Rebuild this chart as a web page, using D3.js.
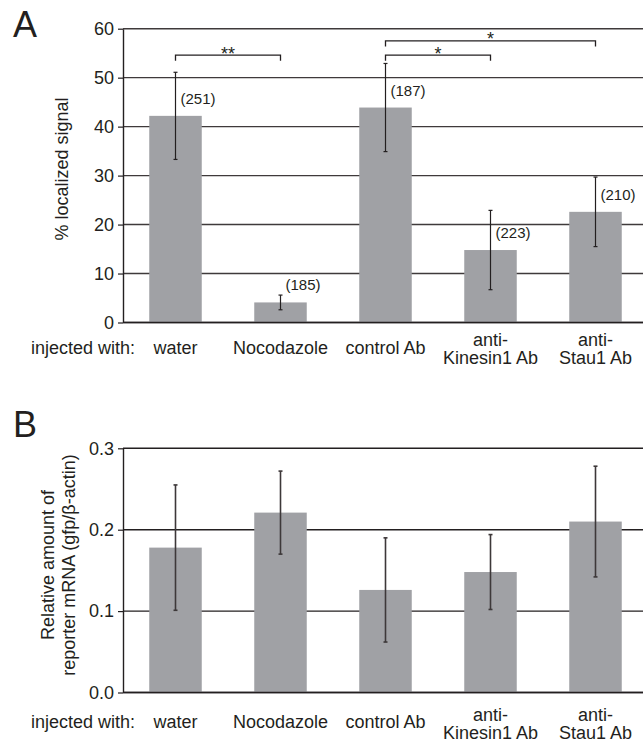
<!DOCTYPE html>
<html>
<head>
<meta charset="utf-8">
<script src="https://cdnjs.cloudflare.com/ajax/libs/d3/7.8.5/d3.min.js"></script>
<style>
body { margin: 0; background: #fff; }
svg text { font-family: "Liberation Sans", Arial, sans-serif; fill: #231f20; }
</style>
</head>
<body>
<svg width="643" height="744"></svg>
<script>
let categories = ['water', 'Nocodazole', 'control Ab', 'anti-Kinesin1 Ab', 'anti-Stau1 Ab']
let categoryLines = [['water'], ['Nocodazole'], ['control Ab'], ['anti-', 'Kinesin1 Ab'], ['anti-', 'Stau1 Ab']]

// panel A
let localizedValues = [42.2, 4.1, 43.9, 14.8, 22.6]
let localizedErrors = [8.9, 1.5, 9.0, 8.1, 7.1]
let cellCounts = ['(251)', '(185)', '(187)', '(223)', '(210)']
let localizedTicks = [0, 10, 20, 30, 40, 50, 60]
let brackets = [
    {from: 'water', to: 'Nocodazole', level: 54.6, mark: '**'},
    {from: 'control Ab', to: 'anti-Kinesin1 Ab', level: 54.6, mark: '*'},
    {from: 'control Ab', to: 'anti-Stau1 Ab', level: 57.5, mark: '*'}
]

// panel B
let reporterValues = [0.178, 0.221, 0.126, 0.148, 0.210]
let reporterErrors = [0.077, 0.051, 0.064, 0.046, 0.068]
let reporterTicks = [0, 0.1, 0.2, 0.3]

let svg = d3.select('svg')
let left = 123
let right = 643

let x = d3.scaleBand()
    .domain(categories)
    .range([left, 648])
    .paddingInner(0.5)
    .paddingOuter(0.25)

let drawPanel = (p) => {
    let g = svg.append('g')
    let y = d3.scaleLinear().domain([0, p.max]).range([p.bottom, p.top])
    let rows = categories.map((c, i) => {
        return {cat: c, value: p.values[i], err: p.errors[i], lines: categoryLines[i], n: p.counts ? p.counts[i] : null}
    })

    g.selectAll('.grid')
        .data(p.ticks)
        .enter()
        .append('line')
        .attr('class', 'grid')
        .attr('x1', left)
        .attr('x2', right)
        .attr('y1', d => y(d))
        .attr('y2', d => y(d))
        .attr('stroke', p.gridColor)
        .attr('stroke-width', 1.4)

    g.selectAll('.bar')
        .data(rows)
        .enter()
        .append('rect')
        .attr('class', 'bar')
        .attr('x', d => x(d.cat))
        .attr('width', x.bandwidth())
        .attr('y', d => y(d.value))
        .attr('height', d => y(0) - y(d.value))
        .attr('fill', '#a0a1a5')

    let axis = g.append('g')
        .attr('transform', `translate(${left},0)`)
        .style('color', '#231f20')
        .call(d3.axisLeft(y).tickValues(p.ticks).tickFormat(p.format).tickSize(5).tickSizeOuter(0).tickPadding(4))
    axis.selectAll('text').attr('font-size', 18).attr('font-family', null)
    axis.select('.domain').attr('stroke-width', 1.4)
    axis.selectAll('.tick line').attr('stroke-width', 1.2)

    // x axis baseline
    g.append('line')
        .attr('x1', left).attr('x2', right)
        .attr('y1', y(0)).attr('y2', y(0))
        .attr('stroke', '#231f20')
        .attr('stroke-width', 1.4)

    let eb = g.selectAll('.err')
        .data(rows)
        .enter()
        .append('g')
        .attr('class', 'err')
        .attr('stroke', p.errColor)
        .attr('stroke-width', p.errWidth)
    eb.append('line')
        .attr('x1', d => x(d.cat) + x.bandwidth() / 2)
        .attr('x2', d => x(d.cat) + x.bandwidth() / 2)
        .attr('y1', d => y(d.value + d.err))
        .attr('y2', d => y(d.value - d.err))
    eb.append('line')
        .attr('x1', d => x(d.cat) + x.bandwidth() / 2 - 2)
        .attr('x2', d => x(d.cat) + x.bandwidth() / 2 + 2)
        .attr('y1', d => y(d.value + d.err))
        .attr('y2', d => y(d.value + d.err))
    eb.append('line')
        .attr('x1', d => x(d.cat) + x.bandwidth() / 2 - 2)
        .attr('x2', d => x(d.cat) + x.bandwidth() / 2 + 2)
        .attr('y1', d => y(d.value - d.err))
        .attr('y2', d => y(d.value - d.err))

    if(p.counts) {
        g.selectAll('.count')
            .data(rows)
            .enter()
            .append('text')
            .attr('class', 'count')
            .attr('x', d => x(d.cat) + x.bandwidth() / 2 + 5)
            .attr('y', d => y(d.value) - 12)
            .attr('font-size', 15)
            .text(d => d.n)
    }

    // category labels
    g.append('text')
        .attr('x', 31)
        .attr('y', y(0) + p.oneLine)
        .attr('font-size', 18)
        .text('injected with:')
    let labels = g.selectAll('.cat')
        .data(rows)
        .enter()
        .append('text')
        .attr('class', 'cat')
        .attr('text-anchor', 'middle')
        .attr('font-size', 18)
    labels.selectAll('tspan')
        .data(d => d.lines.map(l => ({text: l, cat: d.cat, count: d.lines.length})))
        .enter()
        .append('tspan')
        .attr('x', d => x(d.cat) + x.bandwidth() / 2)
        .attr('y', (d, i) => {
            if(d.count === 1) {
                return y(0) + p.oneLine
            } else {
                return y(0) + p.twoLine + i * 18.3
            }
        })
        .text(d => d.text)

    // y title
    p.title.forEach((t, i) => {
        g.append('text')
            .attr('transform', `translate(${p.titleX[i]},${p.titleY}) rotate(-90)`)
            .attr('text-anchor', 'middle')
            .attr('font-size', 18)
            .text(t)
    })

    g.append('text')
        .attr('x', 13)
        .attr('y', p.top + p.letterDy)
        .attr('font-size', 36)
        .text(p.letter)

    return y
}

let yA = drawPanel({
    values: localizedValues, errors: localizedErrors, counts: cellCounts,
    ticks: localizedTicks, max: 60, top: 28.7, bottom: 322.5,
    format: d3.format('d'), gridColor: '#3f3a3b', errColor: '#231f20', errWidth: 1.2,
    oneLine: 31.8, twoLine: 23, title: ['% localized signal'], titleX: [68], titleY: 169,
    letter: 'A', letterDy: 8.5
})

let yB = drawPanel({
    values: reporterValues, errors: reporterErrors, counts: null,
    ticks: reporterTicks, max: 0.3, top: 448.3, bottom: 692.5,
    format: d3.format('.1f'), gridColor: '#231f20', errColor: '#3d3839', errWidth: 1.6,
    oneLine: 35, twoLine: 28, title: ['Relative amount of', 'reporter mRNA (gfp/β-actin)'], titleX: [54, 75], titleY: 565,
    letter: 'B', letterDy: -11
})

// significance brackets on panel A
let sig = svg.append('g')
brackets.forEach(b => {
    let x1 = x(b.from) + x.bandwidth() / 2
    let x2 = x(b.to) + x.bandwidth() / 2
    let yy = yA(b.level)
    sig.append('path')
        .attr('d', `M${x1},${yy + 5.5}V${yy}H${x2}V${yy + 5.5}`)
        .attr('fill', 'none')
        .attr('stroke', '#231f20')
        .attr('stroke-width', 1.3)
    sig.append('text')
        .attr('x', (x1 + x2) / 2)
        .attr('y', yy + 4.5)
        .attr('text-anchor', 'middle')
        .attr('font-size', 18)
        .text(b.mark)
})
</script>
</body>
</html>
